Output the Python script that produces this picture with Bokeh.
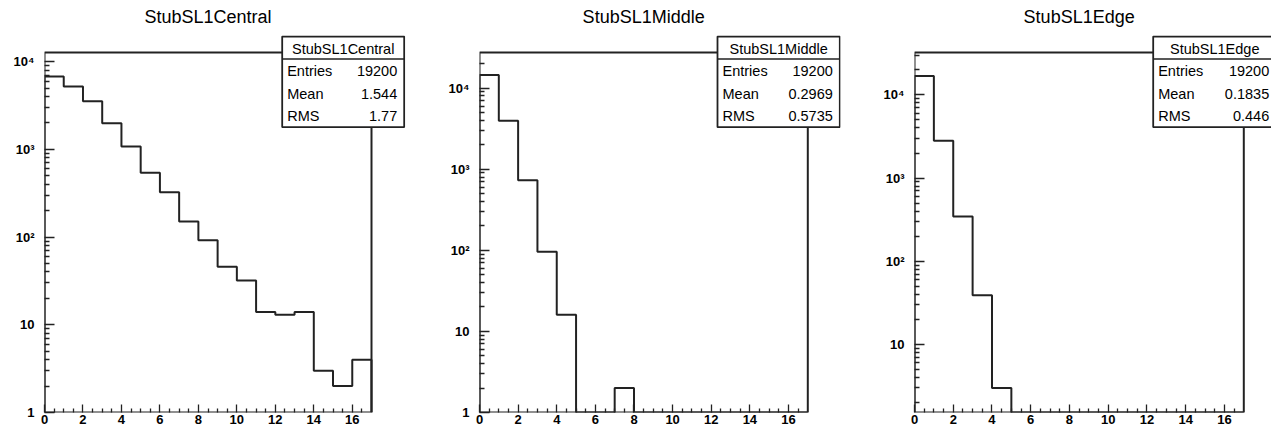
import numpy as np
from bokeh.plotting import figure
from bokeh.layouts import row
from bokeh.models import Range1d, FixedTicker, BoxAnnotation, Label, Title
from bokeh.embed import file_html
from bokeh.resources import INLINE

# ---------------- data ----------------
names = ["StubSL1Central", "StubSL1Middle", "StubSL1Edge"]
central_counts = [6750, 5190, 3530, 1980, 1080, 540, 324, 150, 92, 46, 32, 14, 13, 14, 3, 2, 4]
middle_counts = [14500, 3950, 730, 96, 16, 0, 0, 2, 0, 0, 0, 0, 0, 0, 0, 0, 0]
edge_counts = [16800, 2810, 345, 39, 3, 0, 0, 0, 0, 0, 0, 0, 0, 0, 0, 0, 0]
entries = ["19200", "19200", "19200"]
means = ["1.544", "0.2969", "0.1835"]
rmss = ["1.77", "0.5735", "0.446"]
x_min, x_max = 0, 17
y_ranges = [(1.0, 12700.0), (1.0, 27500.0), (1.52, 32300.0)]
x_major = [0, 2, 4, 6, 8, 10, 12, 14, 16]
x_minor = [0.5 * k for k in range(1, 34) if k % 4 != 0]
log_major = [1, 10, 100, 1000, 10000]
log_labels = {1: "1", 10: "10", 100: "10²", 1000: "10³", 10000: "10⁴"}

# ---------------- layout (pixels within each panel) ----------------
FONT = "Liberation Sans"
H = 427
panel_w = [424, 424, 423]
frame_left = [44, 55, 66]           # left edge of the histogram frame
hist_right = [371.0, 383.3, 395.3]  # right edge of the histogram frame (x = 17)
canvas_right = [405, 416, 423]      # right edge of the drawable area (stat box)
hist_top = 52.0                     # top of the histogram frame
canvas_top = 35                     # top of the drawable area (stat box)
frame_bottom = 412                  # bottom of the frame
box_lr = [(281.7, 403.7), (293.0, 415.3), (304.7, 427.7)]
box_top, box_sep, box_bottom = 36.0, 58.6, 126.7
row_y = [70.7, 93.7, 115.7]
header_y = 48.0
INK = "#222222"
TITLE_PX = 18
# Liberation Sans (Arial metric) advance widths, per 1000 em, for the title glyphs
ADV = {"S": 667, "t": 278, "u": 556, "b": 556, "L": 556, "1": 556, "C": 722, "e": 556,
       "n": 556, "r": 333, "a": 556, "l": 222, "M": 833, "i": 222, "d": 556, "E": 667,
       "g": 556}

all_counts = [central_counts, middle_counts, edge_counts]

figs = []
for i in range(3):
    counts = np.array(all_counts[i], dtype=float)
    ymin, ymax = y_ranges[i]
    fl = frame_left[i]
    # extend the ranges so that the drawable area also covers the stat box
    px_per_x = (hist_right[i] - fl) / (x_max - x_min)
    x_end = x_min + (canvas_right[i] - fl) / px_per_x
    px_per_dec = (frame_bottom - hist_top) / np.log10(ymax / ymin)
    y_end = ymin * 10 ** ((frame_bottom - canvas_top) / px_per_dec)

    p = figure(width=panel_w[i], height=H, output_backend="svg", toolbar_location=None,
               x_range=Range1d(x_min, x_end), y_range=Range1d(ymin, y_end),
               y_axis_type="log", min_border_left=fl,
               min_border_right=panel_w[i] - canvas_right[i],
               min_border_top=canvas_top, min_border_bottom=H - frame_bottom)
    p.xgrid.visible = False
    p.ygrid.visible = False
    p.background_fill_color = "white"
    p.border_fill_color = "white"
    p.outline_line_color = None

    # title centred over the histogram frame
    tw = sum(ADV.get(c, 556) for c in names[i]) * TITLE_PX / 1000.0
    p.title.text = names[i]
    p.title.align = "left"
    p.title.offset = (hist_right[i] - fl) / 2 - tw / 2
    p.title.text_font = FONT
    p.title.text_font_size = f"{TITLE_PX}px"
    p.title.text_font_style = "normal"
    p.title.text_color = "black"
    p.title.standoff = 4
    # thin empty strip above the title, pushing it a few pixels down
    p.add_layout(Title(text=" ", text_font_size="4px", standoff=0), "above")

    xa = p.xaxis[0]
    xa.ticker = FixedTicker(ticks=x_major, minor_ticks=x_minor)
    ya = p.yaxis[0]
    minor = [m * 10 ** k for k in range(0, 5) for m in range(2, 10) if m * 10 ** k <= ymax]
    ya.ticker = FixedTicker(ticks=[t for t in log_major if t >= ymin], minor_ticks=minor)
    ya.major_label_overrides = log_labels
    for ax in (xa, ya):
        ax.axis_line_color = None
        ax.major_tick_line_color = INK
        ax.minor_tick_line_color = INK
        ax.major_tick_line_width = 1.3
        ax.minor_tick_line_width = 1.3
        ax.major_tick_out = 0
        ax.minor_tick_out = 0
        ax.major_label_text_font = FONT
        ax.major_label_text_font_style = "bold"
        ax.major_label_text_font_size = "13px"
        ax.major_label_text_color = "black"
    xa.major_tick_in = 8
    xa.minor_tick_in = 4
    xa.major_label_standoff = 2
    ya.major_tick_in = 10
    ya.minor_tick_in = 5
    ya.major_label_standoff = 10

    # histogram outline built from the bin contents
    edges = np.arange(x_min, x_min + len(counts) + 1)
    shown = np.where(counts > 0, counts, ymin)
    xs = np.repeat(edges, 2)
    ys = np.concatenate([[ymin], np.repeat(shown, 2), [ymin]])
    p.line(xs, ys, line_color=INK, line_width=2)

    # the histogram frame
    p.quad(left=[x_min], right=[x_max], bottom=[ymin], top=[ymax],
           fill_color=None, line_color=INK, line_width=2)

    # statistics box (screen units are measured from the frame's bottom-left corner)
    l, r = box_lr[i]
    sl, sr = l - fl, r - fl

    def sy(v):
        return frame_bottom - v

    p.add_layout(BoxAnnotation(left=sl, right=sr, top=sy(box_top), bottom=sy(box_bottom),
                               left_units="screen", right_units="screen",
                               top_units="screen", bottom_units="screen",
                               fill_color="white", fill_alpha=1.0,
                               line_color=INK, line_alpha=1.0, line_width=1.8,
                               level="overlay"))
    p.add_layout(BoxAnnotation(left=sl, right=sr, top=sy(box_sep), bottom=sy(box_sep),
                               left_units="screen", right_units="screen",
                               top_units="screen", bottom_units="screen",
                               fill_alpha=0.0, line_color=INK, line_alpha=1.0,
                               line_width=1.5, level="overlay"))
    p.add_layout(Label(x=(sl + sr) / 2, y=sy(header_y), x_units="screen", y_units="screen",
                       text=names[i], text_font=FONT, text_font_size="14.5px",
                       text_align="center", text_baseline="middle", text_color="black",
                       level="overlay"))
    for lab, val, yy in zip(["Entries", "Mean", "RMS"], [entries[i], means[i], rmss[i]], row_y):
        p.add_layout(Label(x=sl + 5, y=sy(yy), x_units="screen", y_units="screen",
                           text=lab, text_font=FONT, text_font_size="14.5px",
                           text_align="left", text_baseline="middle", text_color="black",
                           level="overlay"))
        p.add_layout(Label(x=sr - 7, y=sy(yy), x_units="screen", y_units="screen",
                           text=val, text_font=FONT, text_font_size="14.5px",
                           text_align="right", text_baseline="middle", text_color="black",
                           level="overlay"))
    figs.append(p)

layout = row(*figs, spacing=0)
open("out.html", "w").write(file_html(layout, INLINE))
